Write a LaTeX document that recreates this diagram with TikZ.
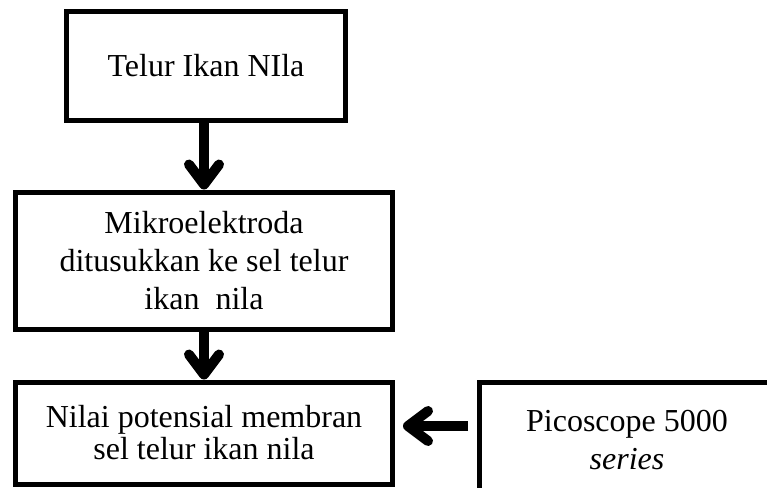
\documentclass[tikz,border=0pt]{standalone}
\usepackage{fontspec}
\setmainfont{Liberation Serif}
\usetikzlibrary{positioning,arrows.meta}

\begin{document}
\begin{tikzpicture}[x=1pt, y=-1pt,
    box/.style = {draw, line width=5pt, align=center, inner sep=0pt,
                  font=\fontsize{32}{38}\selectfont},
    arr/.style = {line width=10pt, -{Straight Barb[length=20pt, width=30pt, round]}}]
  \clip (0,0) rectangle (767,487);
  \node[box, minimum width=279pt, minimum height=108pt] (telur) at (206,66) {Telur Ikan NIla};
  \node[box, minimum width=377pt, minimum height=137pt] (mikro) [below=67pt of telur, xshift=-2pt]
       {Mikroelektroda\\ditusukkan ke sel telur\\ikan\ \ nila};
  \node[box, minimum width=377pt, minimum height=102pt] (nilai) [below=48pt of mikro]
       {Nilai potensial membran\\[-6pt]sel telur ikan nila};
  \node[box, minimum width=295pt, minimum height=116pt] (pico) at (627,440)
       {Picoscope 5000\\\textit{series}};
  \coordinate (picoarr) at (468,426);
  \draw[arr] (telur.south -| mikro.north) -- (mikro.north);
  \draw[arr] (mikro) -- (nilai.north);
  \draw[arr, shorten >=8pt] (picoarr) -- (nilai.east |- picoarr);
\end{tikzpicture}
\end{document}
